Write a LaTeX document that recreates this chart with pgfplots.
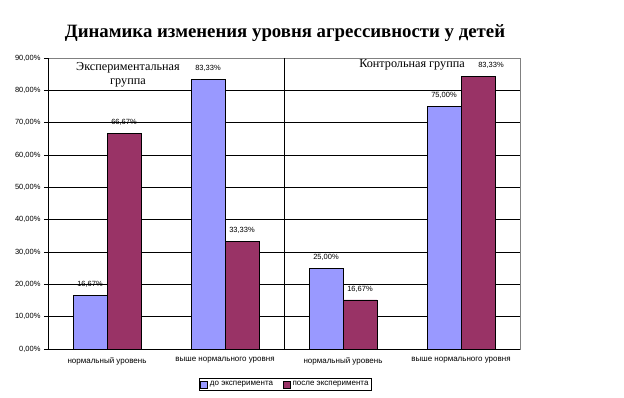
\documentclass[border=0pt]{standalone}
\usepackage{pgfplots}
\pgfplotsset{compat=1.18}
\usepackage{fontspec}
\setmainfont{Liberation Serif}
\newfontfamily\arial{Liberation Sans}
\definecolor{exblue}{HTML}{9999FF}
\definecolor{exred}{HTML}{993366}
\begin{document}
\begin{tikzpicture}[x=1pt,y=1pt]
\path[use as bounding box] (0,0) rectangle (624,397);
\node[font=\bfseries\fontsize{18.8}{21}\selectfont] at (285,364) {Динамика изменения уровня агрессивности у детей};
\begin{axis}[
  at={(48pt,48pt)}, anchor=south west,
  scale only axis, width=472pt, height=291pt,
  ybar=0pt, bar width=34pt,
  xmin=-0.5, xmax=3.5, ymin=0, ymax=90,
  xtick={0,1,2,3},
  xticklabels={нормальный уровень, выше нормального уровня, нормальный уровень, выше нормального уровня},
  x tick label style={font=\arial\fontsize{8}{9}\selectfont, yshift=-1pt},
  major x tick style={draw=none},
  extra x ticks={0.5,1.5,2.5,3.5},
  extra x tick labels={},
  extra x tick style={tick style={draw=black, line width=0.6pt}, major tick length=4pt, tick align=outside},
  ytick={0,10,...,90},
  yticklabels={{0,00\%},{10,00\%},{20,00\%},{30,00\%},{40,00\%},{50,00\%},{60,00\%},{70,00\%},{80,00\%},{90,00\%}},
  y tick label style={font=\arial\fontsize{7.5}{8}\selectfont},
  ytick style={draw=black, line width=0.6pt},
  tick align=outside, major tick length=4pt,
  ytick pos=left, xtick pos=bottom,
  ymajorgrids, grid style={black, line width=0.7pt},
  axis line style={draw=gray, line width=0.7pt},
  legend style={at={(0.503,-0.122)}, anchor=center, legend columns=2,
    font=\arial\fontsize{8}{9}\selectfont, draw=black, line width=0.6pt,
    inner sep=1pt, /tikz/every even column/.append style={column sep=8pt}},
  legend image code/.code={\draw[#1, draw=black] (0cm,-3.5pt) rectangle (7pt,3.5pt);},
  nodes near coords,
  point meta=explicit symbolic,
  every node near coord/.append style={font=\arial\fontsize{7.5}{8}\selectfont, black, yshift=4pt},
  clip=false,
]
\addplot[fill=exblue, draw=black, line width=0.6pt] coordinates {
  (0,16.67) [{16,67\%}]
  (1,83.33) [{83,33\%}]
  (2,25.00) [{25,00\%}]
  (3,75.00) [{75,00\%}]
};
\addplot[fill=exred, draw=black, line width=0.6pt,
  coordinate style/.condition={x==3}{xshift=13pt}] coordinates {
  (0,66.67) [{66,67\%}]
  (1,33.33) [{33,33\%}]
  (2,15.2) [{16,67\%}]
  (3,84.4) [{83,33\%}]
};
\legend{до эксперимента, после эксперимента}
\draw[black, line width=0.7pt] (rel axis cs:0,0) -- (rel axis cs:0,1);
\draw[black, line width=0.7pt] (rel axis cs:0,0) -- (rel axis cs:1,0);
\draw[black, line width=0.7pt] (axis cs:1.5,0) -- (axis cs:1.5,90);
\end{axis}
\node[align=center, font=\fontsize{12.2}{14}\selectfont] at (128,322) {Экспериментальная\\группа};
\node[font=\fontsize{12.2}{14}\selectfont] at (412,332) {Контрольная группа};
\end{tikzpicture}
\end{document}
